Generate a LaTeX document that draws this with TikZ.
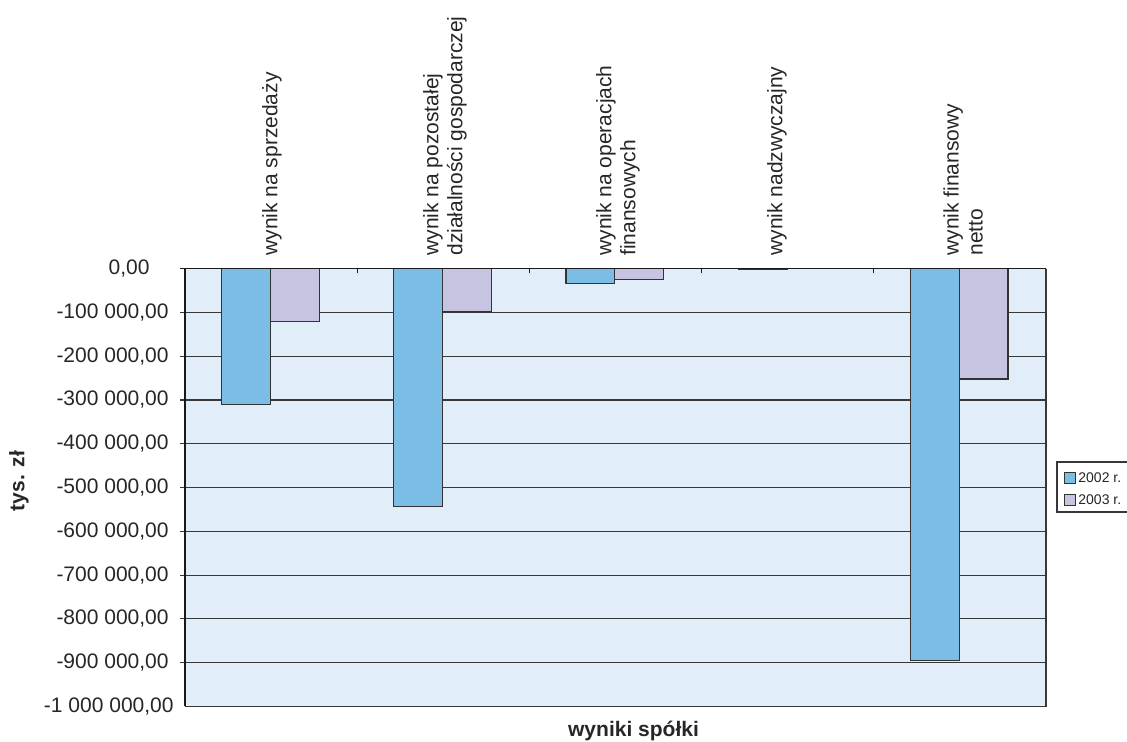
\documentclass[tikz,border=0pt]{standalone}
\usepackage{fontspec}
\setmainfont{Liberation Sans}
\definecolor{plotbg}{RGB}{225,238,250}
\definecolor{bluebar}{RGB}{124,189,230}
\definecolor{lilacbar}{RGB}{198,196,224}
\definecolor{gridgray}{RGB}{55,55,55}

\begin{document}
\begin{tikzpicture}[x=0.5pt,y=-0.5pt,
  txt/.style={font=\fontsize{10.5}{12}\selectfont, inner sep=0pt, text=black!85},
  title/.style={font=\fontsize{10.5}{12}\bfseries\selectfont, inner sep=0pt, text=black!85},
  legtxt/.style={font=\fontsize{7}{8}\selectfont, inner sep=0pt, text=black!85},
  barbox/.style={draw=black!80, line width=0.6pt}]
  \useasboundingbox (0,0) rectangle (1127,742);

  % plot area and grid
  \fill[plotbg] (185,268.7) rectangle (1046,706.4);
  \foreach \v in {1,...,9}
    \draw[gridgray, line width=0.55pt] (180,268.7+43.77*\v) -- (1046,268.7+43.77*\v);

  % value axis labels
  \foreach \v/\t/\xr in {0/0{,}00/150, 1/-100 000{,}00/169, 2/-200 000{,}00/169,
      3/-300 000{,}00/169, 4/-400 000{,}00/169, 5/-500 000{,}00/169,
      6/-600 000{,}00/169, 7/-700 000{,}00/169, 8/-800 000{,}00/169,
      9/-900 000{,}00/169, 10/-1 000 000{,}00/174}
    \node[txt, anchor=east] (yl\v) at (\xr,268.7+43.77*\v) {\t};

  % bars (values in thousands)
  \foreach \i/\a/\b in {0/311/120, 1/544/97, 2/33/25, 3/1/0, 4/896/252} {
    \pgfmathsetmacro{\xl}{185+172.2*\i}
    \draw[barbox, fill=bluebar] (\xl+36.6,268.7) rectangle (\xl+85.4,268.7+0.4377*\a);
    \ifnum\b>0
      \draw[barbox, fill=lilacbar] (\xl+85.4,268.7) rectangle (\xl+134.2,268.7+0.4377*\b);
    \fi
  }

  % frame and axes
  \draw[gridgray, line width=0.7pt] (1046,268.7) -- (1046,706.4) -- (185,706.4);
  \draw[black!90, line width=0.7pt] (185,268.7) -- (1046,268.7);
  \foreach \i in {1,...,4}
    \draw[black!90, line width=0.6pt] (185+172.2*\i,268.7) -- (185+172.2*\i,273);
  \draw[black!90, line width=1.1pt] (185,268.7) -- (185,706.4);
  \draw[black!90, line width=0.6pt] (180,268.7) -- (185,268.7);

  % category labels
  \node[txt, rotate=90, anchor=west, align=left] (c1) at (272,256) {wynik na sprzedaży};
  \node[txt, rotate=90, anchor=west, align=left] (c2) at (445,256) {wynik na pozostałej\\działalności gospodarczej};
  \node[txt, rotate=90, anchor=west, align=left] (c3) at (618,256) {wynik na operacjach\\finansowych};
  \node[txt, rotate=90, anchor=west, align=left] (c4) at (777,256) {wynik nadzwyczajny};
  \node[txt, rotate=90, anchor=west, align=left] (c5) at (963,256) {wynik finansowy\\netto};

  % axis titles
  \node[title, rotate=90] (ytitle) at (19,481) {tys. zł};
  \node[title] (xtitle) at (633.5,731) {wyniki spółki};

  % legend
  \draw[gridgray, line width=0.6pt, fill=white] (1057,462) rectangle (1140,512);
  \draw[black!80, line width=0.5pt, fill=bluebar] (1064,472.5) rectangle (1075,483.5);
  \node[legtxt, anchor=west] (l2002) at (1078,478) {2002 r.};
  \draw[black!80, line width=0.5pt, fill=lilacbar] (1064,494.5) rectangle (1075,505.5);
  \node[legtxt, anchor=west] (l2003) at (1078,500) {2003 r.};
\end{tikzpicture}
\end{document}
